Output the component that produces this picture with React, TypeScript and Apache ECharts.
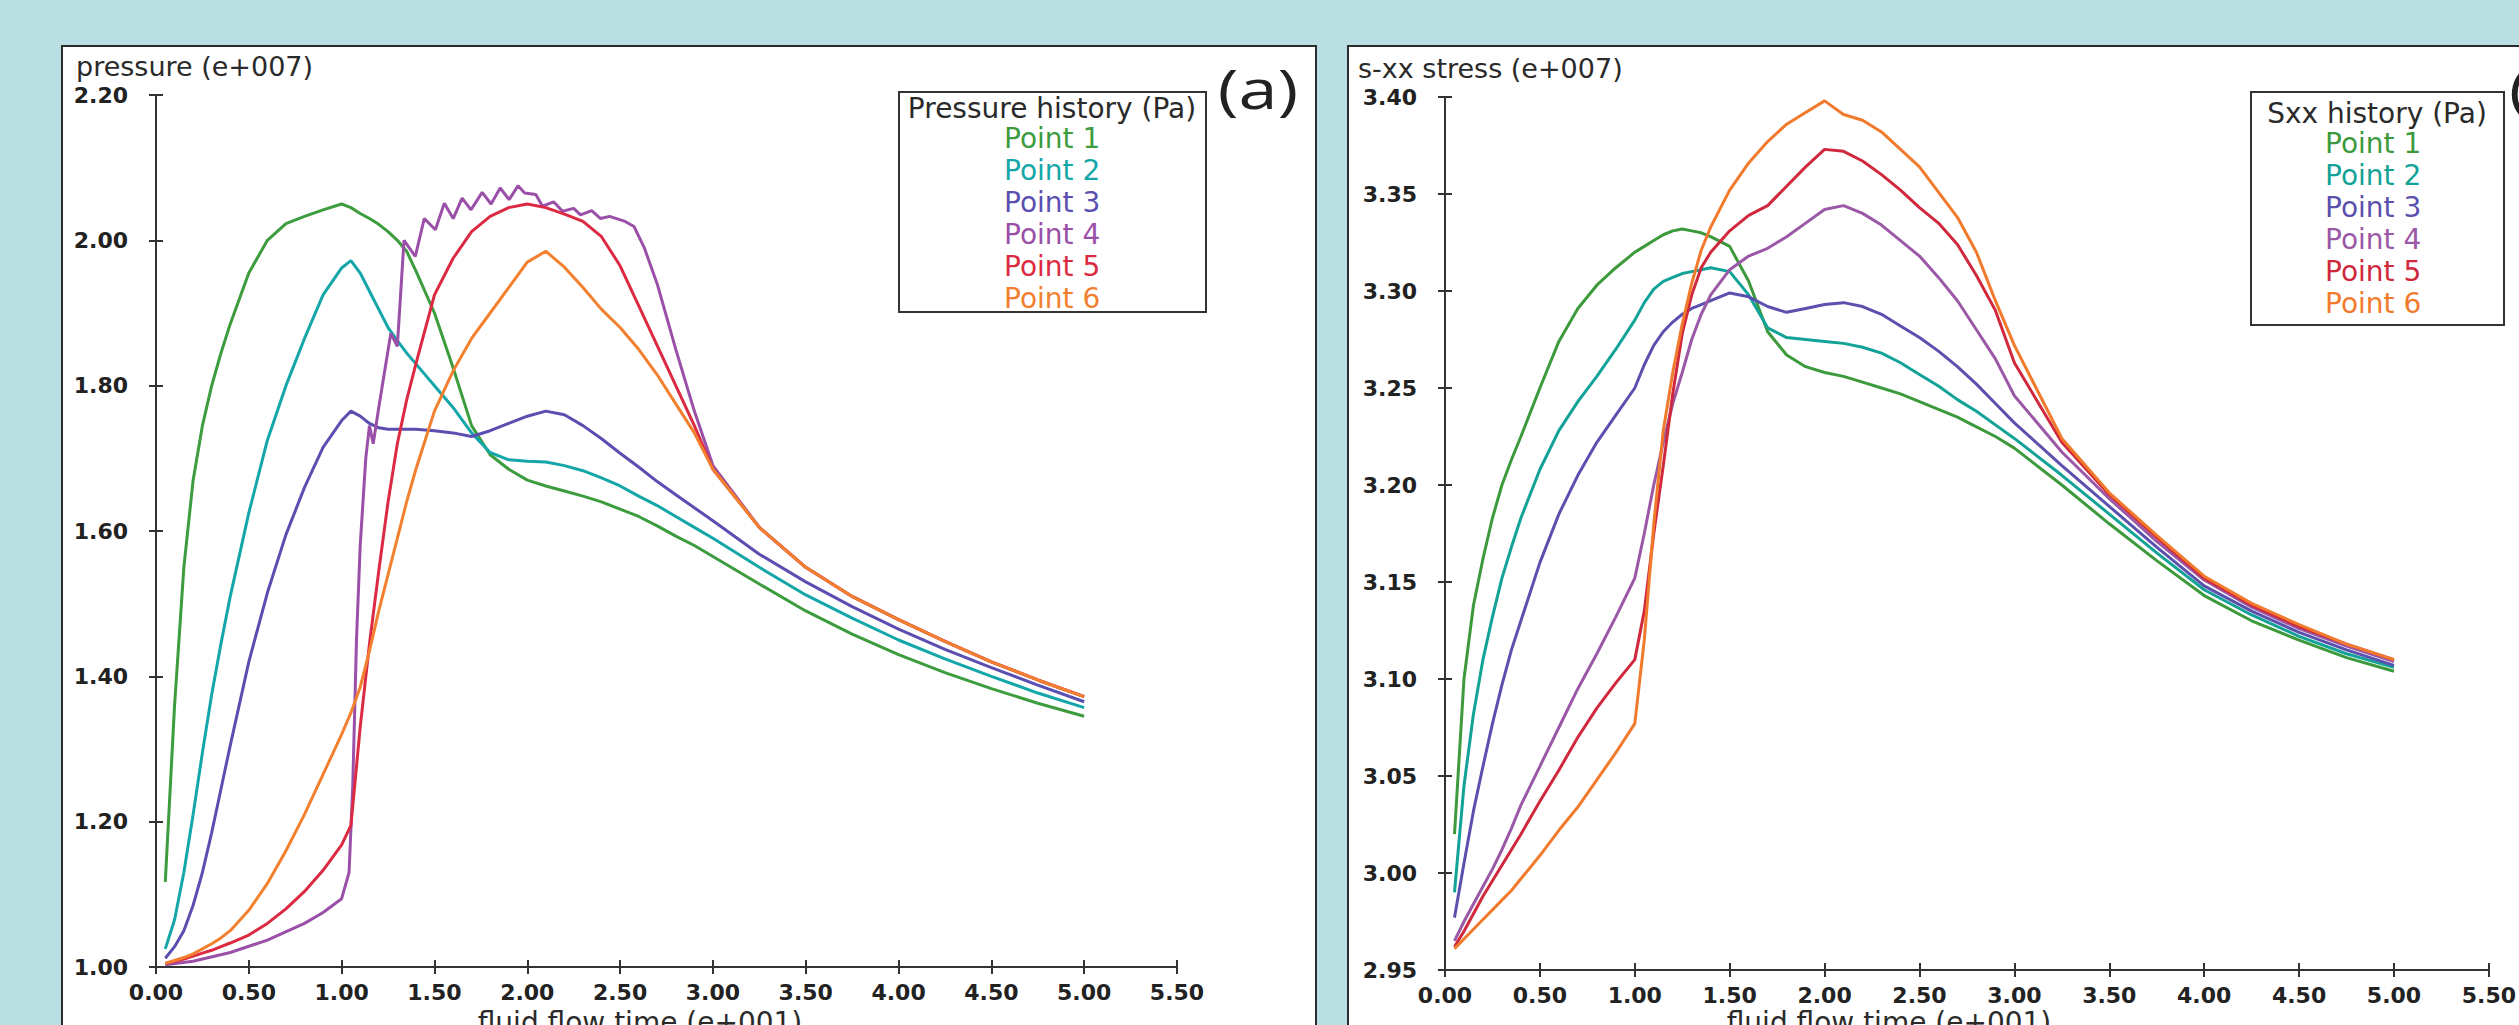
import React, { useEffect, useRef } from "react";
import * as echarts from "echarts";

// ---------- data ----------
const TIME = [0.05, 0.1, 0.15, 0.2, 0.25, 0.3, 0.35, 0.4, 0.5, 0.6, 0.7, 0.8, 0.9, 1.0, 1.05, 1.1, 1.15, 1.2, 1.25, 1.3, 1.35, 1.4, 1.5, 1.6, 1.7, 1.8, 1.9, 2.0, 2.1, 2.2, 2.3, 2.4, 2.5, 2.6, 2.7, 2.8, 2.9, 3.0, 3.25, 3.5, 3.75, 4.0, 4.25, 4.5, 4.75, 5.0];

const PRESSURE_P1 = [1.117, 1.36, 1.55, 1.67, 1.745, 1.8, 1.845, 1.885, 1.955, 2.0, 2.023, 2.033, 2.042, 2.05, 2.045, 2.037, 2.03, 2.022, 2.012, 2.0, 1.985, 1.958, 1.9, 1.825, 1.745, 1.705, 1.685, 1.67, 1.662, 1.655, 1.648, 1.64, 1.63, 1.62, 1.607, 1.593, 1.58, 1.565, 1.527, 1.49, 1.458, 1.43, 1.405, 1.383, 1.363, 1.345];
const PRESSURE_P2 = [1.025, 1.065, 1.13, 1.21, 1.295, 1.375, 1.445, 1.51, 1.625, 1.725, 1.8, 1.865, 1.925, 1.962, 1.972, 1.955, 1.93, 1.905, 1.88, 1.862, 1.845, 1.83, 1.8, 1.77, 1.735, 1.708, 1.698, 1.696, 1.695, 1.69, 1.683, 1.673, 1.662, 1.648, 1.635, 1.62, 1.605, 1.59, 1.55, 1.512, 1.48, 1.45, 1.424, 1.4, 1.377, 1.357];
const PRESSURE_P3 = [1.012, 1.028, 1.05, 1.085, 1.13, 1.185, 1.245, 1.305, 1.42, 1.515, 1.595, 1.66, 1.715, 1.752, 1.765, 1.758, 1.748, 1.742, 1.74, 1.74, 1.74, 1.74, 1.738, 1.735, 1.73, 1.738, 1.748, 1.758, 1.765, 1.76, 1.745, 1.727, 1.707, 1.688, 1.668, 1.65, 1.632, 1.614, 1.568, 1.53, 1.496, 1.465, 1.437, 1.412, 1.388, 1.365];
const PRESSURE_P5 = [1.005, 1.008, 1.011, 1.015, 1.019, 1.023, 1.028, 1.033, 1.044, 1.06, 1.08, 1.104, 1.133, 1.168, 1.195, 1.33, 1.445, 1.545, 1.64, 1.72, 1.78, 1.83, 1.925, 1.975, 2.012, 2.033, 2.045, 2.05, 2.045, 2.036, 2.026, 2.005, 1.965, 1.91, 1.855, 1.8, 1.745, 1.685, 1.605, 1.55, 1.51, 1.478, 1.448, 1.42, 1.395, 1.372];
const PRESSURE_P6 = [1.005, 1.009, 1.013, 1.018, 1.025, 1.032, 1.04, 1.05, 1.078, 1.115, 1.16, 1.21, 1.265, 1.32, 1.35, 1.385, 1.435, 1.49, 1.54, 1.59, 1.64, 1.685, 1.765, 1.82, 1.865, 1.9, 1.935, 1.97, 1.985, 1.963, 1.935, 1.905, 1.88, 1.85, 1.815, 1.775, 1.735, 1.685, 1.605, 1.55, 1.51, 1.478, 1.448, 1.42, 1.395, 1.372];

// Point 4 pressure has a saw-tooth plateau, so it keeps its own time samples
const P4_TIME = [0.05, 0.2, 0.4, 0.6, 0.8, 0.9, 1.0, 1.04, 1.06, 1.08, 1.1, 1.13, 1.15, 1.17, 1.2, 1.265, 1.3, 1.336, 1.397, 1.445, 1.505, 1.553, 1.601, 1.649, 1.697, 1.757, 1.805, 1.854, 1.902, 1.95, 1.986, 2.046, 2.082, 2.142, 2.19, 2.25, 2.287, 2.347, 2.395, 2.443, 2.527, 2.575, 2.63, 2.7, 2.8, 2.9, 3.0, 3.25, 3.5, 3.75, 4.0, 4.25, 4.5, 4.75, 5.0];
const PRESSURE_P4 = [1.003, 1.008, 1.02, 1.037, 1.06, 1.075, 1.094, 1.13, 1.25, 1.45, 1.58, 1.7, 1.745, 1.72, 1.77, 1.872, 1.854, 2.0, 1.978, 2.03, 2.0145, 2.051, 2.03, 2.058, 2.042, 2.066, 2.05, 2.072, 2.056, 2.075, 2.065, 2.063, 2.047, 2.053, 2.04, 2.044, 2.035, 2.041, 2.03, 2.033, 2.026, 2.019, 1.99, 1.94, 1.85, 1.765, 1.69, 1.605, 1.55, 1.51, 1.478, 1.448, 1.42, 1.395, 1.372];

const SXX_P1 = [3.02, 3.1, 3.138, 3.162, 3.183, 3.2, 3.213, 3.225, 3.25, 3.274, 3.291, 3.303, 3.312, 3.32, 3.323, 3.326, 3.329, 3.331, 3.332, 3.331, 3.33, 3.328, 3.323, 3.305, 3.279, 3.267, 3.261, 3.258, 3.256, 3.253, 3.25, 3.247, 3.243, 3.239, 3.235, 3.23, 3.225, 3.219, 3.2, 3.18, 3.161, 3.143, 3.13, 3.12, 3.111, 3.104];
const SXX_P2 = [2.99, 3.045, 3.082, 3.11, 3.132, 3.152, 3.168, 3.183, 3.208, 3.228, 3.243, 3.256, 3.27, 3.285, 3.294, 3.301, 3.305, 3.307, 3.309, 3.31, 3.311, 3.312, 3.31, 3.298, 3.281, 3.276, 3.275, 3.274, 3.273, 3.271, 3.268, 3.263, 3.257, 3.251, 3.244, 3.238, 3.231, 3.224, 3.205, 3.185, 3.165, 3.146, 3.133, 3.122, 3.113, 3.106];
const SXX_P3 = [2.977, 3.005, 3.032, 3.055, 3.077, 3.097, 3.115, 3.13, 3.16, 3.185, 3.205, 3.222, 3.236, 3.25, 3.262, 3.272, 3.279, 3.284, 3.288, 3.291, 3.293, 3.295, 3.299, 3.297, 3.292, 3.289, 3.291, 3.293, 3.294, 3.292, 3.288, 3.282, 3.276, 3.269, 3.261, 3.252, 3.242, 3.232, 3.21, 3.189, 3.168, 3.148, 3.135, 3.124, 3.115, 3.107];
const SXX_P4 = [2.965, 2.975, 2.984, 2.993, 3.002, 3.012, 3.023, 3.035, 3.055, 3.075, 3.095, 3.113, 3.132, 3.152, 3.175, 3.2, 3.222, 3.242, 3.258, 3.275, 3.288, 3.298, 3.311, 3.318, 3.322, 3.328, 3.335, 3.342, 3.344, 3.34, 3.334, 3.326, 3.318, 3.307, 3.295, 3.28, 3.265, 3.246, 3.217, 3.193, 3.171, 3.151, 3.137, 3.126, 3.117, 3.109];
const SXX_P5 = [2.962, 2.97, 2.979, 2.988, 2.996, 3.004, 3.012, 3.02, 3.037, 3.053, 3.07, 3.085, 3.098, 3.11, 3.135, 3.175, 3.21, 3.247, 3.278, 3.298, 3.312, 3.32, 3.331, 3.339, 3.344, 3.354, 3.364, 3.373, 3.372, 3.367, 3.36, 3.352, 3.343, 3.335, 3.324, 3.308, 3.29, 3.263, 3.222, 3.195, 3.173, 3.152, 3.138, 3.127, 3.118, 3.11];
const SXX_P6 = [2.961, 2.966, 2.971, 2.976, 2.981, 2.986, 2.991, 2.997, 3.009, 3.022, 3.034, 3.048, 3.062, 3.077, 3.12, 3.18, 3.228, 3.258, 3.283, 3.304, 3.321, 3.333, 3.352, 3.366, 3.377, 3.386, 3.392, 3.398, 3.391, 3.388, 3.382, 3.373, 3.364, 3.351, 3.338, 3.32, 3.295, 3.272, 3.224, 3.196, 3.174, 3.153, 3.139, 3.128, 3.118, 3.11];

const POINT_NAMES = ["Point 1", "Point 2", "Point 3", "Point 4", "Point 5", "Point 6"];
const PRESSURE_COLORS = ["#3c9c3e", "#14a6a8", "#5a4fb0", "#9a50a8", "#dc2a42", "#f2802e"];
const SXX_COLORS = ["#3c9a3c", "#12a298", "#5b50ae", "#9a58a6", "#d0283c", "#f27a2c"];

// ---------- helpers ----------
const FONT = "DejaVu Sans";
const AXIS_COLOR = "#333333";
const zip = (t: number[], v: number[]) => t.map((x, i) => [x, v[i]]);
const fmt = (v: number) => v.toFixed(2);

const labelStyle = {
  fontFamily: FONT,
  fontSize: 22,
  fontWeight: "bold",
  color: "#222222",
};

function axisPair(kind: "x" | "y", gridIndex: number, min: number, max: number, interval: number) {
  const base: any = {
    gridIndex,
    type: "value",
    min,
    max,
    interval,
    position: kind === "x" ? "bottom" : "left",
    splitLine: { show: false },
    axisLine: { show: true, onZero: false, lineStyle: { color: AXIS_COLOR, width: 2 } },
  };
  return [
    {
      ...base,
      axisTick: { show: true, inside: false, length: 7, lineStyle: { color: AXIS_COLOR, width: 2 } },
      axisLabel: { show: true, margin: kind === "x" ? 14 : 28, formatter: fmt, ...labelStyle },
    },
    {
      ...base,
      axisTick: { show: true, inside: true, length: 7, lineStyle: { color: AXIS_COLOR, width: 2 } },
      axisLabel: { show: false },
    },
  ];
}

function lineSeries(name: string, data: number[][], color: string, axisIndex: number) {
  return {
    type: "line",
    name,
    data,
    xAxisIndex: axisIndex,
    yAxisIndex: axisIndex,
    showSymbol: false,
    symbol: "none",
    silent: true,
    z: 3,
    lineStyle: { width: 3, color },
    itemStyle: { color },
  };
}

function legendFor(colors: string[], left: number, top: number) {
  return {
    orient: "vertical",
    left,
    top,
    padding: 0,
    itemGap: 0,
    itemWidth: 0,
    itemHeight: 0,
    icon: "none",
    selectedMode: false,
    textStyle: { fontFamily: FONT, fontSize: 28, lineHeight: 32 },
    data: POINT_NAMES.map((n, i) => ({ name: n, textStyle: { color: colors[i] } })),
  };
}

function text(x: number, y: number, str: string, font: string, align: string, vAlign: string, fill = "#2a2a2a", scaleX = 1) {
  return {
    type: "text",
    x,
    y,
    scaleX,
    z: 20,
    silent: true,
    style: {
      text: str,
      font,
      fill,
      textAlign: align,
      textVerticalAlign: vAlign,
      align,
      verticalAlign: vAlign,
    },
  };
}

function buildOption() {
  const pressureData = [
    zip(TIME, PRESSURE_P1),
    zip(TIME, PRESSURE_P2),
    zip(TIME, PRESSURE_P3),
    zip(P4_TIME, PRESSURE_P4),
    zip(TIME, PRESSURE_P5),
    zip(TIME, PRESSURE_P6),
  ];
  const sxxData = [SXX_P1, SXX_P2, SXX_P3, SXX_P4, SXX_P5, SXX_P6].map((v) => zip(TIME, v));

  return {
    animation: false,
    backgroundColor: "#b9dfe3",
    grid: [
      { left: 156, top: 95, width: 1021, height: 872 },
      { left: 1445, top: 97, width: 1069, height: 873 },
    ],
    xAxis: [...axisPair("x", 0, 0, 5.5, 0.5), ...axisPair("x", 1, 0, 5.5, 0.5)],
    yAxis: [...axisPair("y", 0, 1.0, 2.2, 0.2), ...axisPair("y", 1, 2.95, 3.4, 0.05)],
    legend: [legendFor(PRESSURE_COLORS, 999, 122), legendFor(SXX_COLORS, 2320, 127)],
    series: [
      ...pressureData.map((d, i) => lineSeries(POINT_NAMES[i], d, PRESSURE_COLORS[i], 0)),
      ...sxxData.map((d, i) => lineSeries(POINT_NAMES[i], d, SXX_COLORS[i], 2)),
    ],
    graphic: [
      {
        type: "rect",
        z: -10,
        silent: true,
        shape: { x: 62, y: 46, width: 1254, height: 1010 },
        style: { fill: "#ffffff", stroke: "#2b2b2b", lineWidth: 2 },
      },
      {
        type: "rect",
        z: -10,
        silent: true,
        shape: { x: 1348, y: 46, width: 1200, height: 1010 },
        style: { fill: "#ffffff", stroke: "#2b2b2b", lineWidth: 2 },
      },
      {
        type: "rect",
        z: 5,
        silent: true,
        shape: { x: 899, y: 92, width: 307, height: 220 },
        style: { fill: "none", stroke: "#333333", lineWidth: 2 },
      },
      {
        type: "rect",
        z: 5,
        silent: true,
        shape: { x: 2251, y: 92, width: 253, height: 233 },
        style: { fill: "none", stroke: "#333333", lineWidth: 2 },
      },
      text(1052, 108, "Pressure history (Pa)", `28px "${FONT}"`, "center", "middle"),
      text(2377, 113, "Sxx history (Pa)", `28px "${FONT}"`, "center", "middle"),
      text(76, 66, "pressure (e+007)", `27px "${FONT}"`, "left", "middle"),
      text(1358, 68, "s-xx stress (e+007)", `27px "${FONT}"`, "left", "middle"),
      text(640, 1008, "fluid flow time (e+001)", `28px "${FONT}"`, "center", "top"),
      text(1889, 1008, "fluid flow time (e+001)", `28px "${FONT}"`, "center", "top"),
      text(1258, 88, "(a)", `54px "Open Sans"`, "center", "middle", "#222222", 1.3),
      text(2509, 88, "(b)", `54px "Open Sans"`, "left", "middle", "#222222", 1.3),
    ],
  };
}

export default function App() {
  const ref = useRef<HTMLDivElement>(null);
  useEffect(() => {
    document.body.style.margin = "0";
    const chart = echarts.init(ref.current as HTMLDivElement, undefined, { renderer: "svg" });
    chart.setOption(buildOption() as any);
    return () => chart.dispose();
  }, []);
  return <div ref={ref} style={{ width: 2519, height: 1025 }} />;
}
